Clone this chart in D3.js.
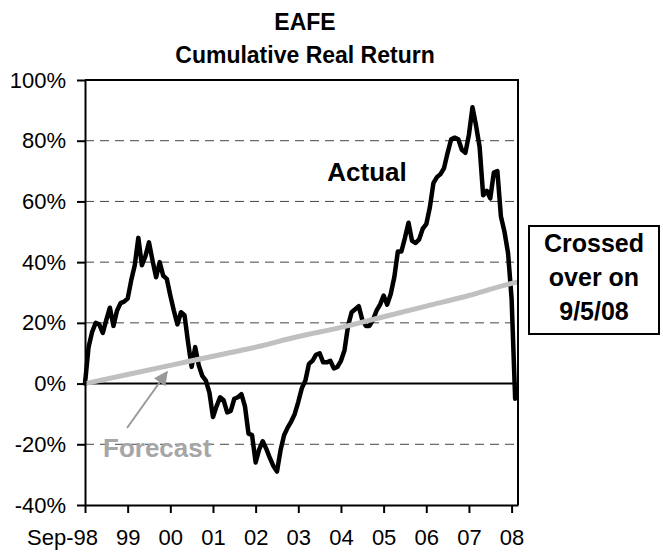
<!DOCTYPE html>
<html><head><meta charset="utf-8">
<script src="https://cdn.jsdelivr.net/npm/d3@7"></script>
<style>body{margin:0;background:#fff} text{font-family:"Liberation Sans",Arial,sans-serif}</style>
</head><body><svg id="c" width="663" height="552"></svg>
<script>
// Monthly cumulative real return (%) from Sep-98 (index 0) to 9/5/08
const actualValues = [
  0, 12, 17, 20, 19.5, 16.7, 21, 25, 19, 24, 26.5, 27,
  28, 34, 39, 48, 39, 42, 46.5, 40.5, 35, 40, 35.5, 34.5,
  29, 24, 19.5, 23.5, 22.5, 13.5, 5.5, 12, 6, 2.5, 1, -3,
  -11, -7.5, -4.5, -5.5, -9.5, -9, -5, -4.5, -3.5, -7.5, -16.5, -17,
  -26, -21.7, -19, -21.5, -24.5, -27.2, -29, -22, -17, -14.5, -12.5, -10,
  -6, -1.5, 1, 6.5, 7.5, 9.5, 10, 7, 7, 7.5, 5, 5.5,
  7.5, 11, 19, 23.5, 24.5, 25.5, 21, 19, 19, 21, 24, 26,
  29, 26, 29.5, 35, 43.5, 43.5, 48, 53, 47, 46.3, 47.5, 51,
  52.5, 58, 66, 68, 69, 71, 76, 80.5, 81, 80.5, 77, 76,
  82, 91, 85, 78, 62, 63.5, 61, 69.5, 70, 55, 50, 43,
  28, -5
];
const forecastMonths = [0, 12, 24, 36, 48, 60, 72, 84, 96, 108, 120, 121.8];
const forecastValues = [0, 3, 6, 9, 12, 15.5, 18.5, 22, 25.5, 29, 33, 33.5];
const xTickMonths = [0, 12, 24, 36, 48, 60, 72, 84, 96, 108, 120];
const xTickLabels = ["Sep-98", "99", "00", "01", "02", "03", "04", "05", "06", "07", "08"];
const yTicks = [-40, -20, 0, 20, 40, 60, 80, 100];
const gridValues = [-20, 20, 40, 60, 80];
const titleLines = ["EAFE", "Cumulative Real Return"];
const boxLines = ["Crossed", "over on", "9/5/08"];

const svg = d3.select("#c");
const L = 85, R = 518, T = 80, B = 505;
const x = d3.scaleLinear().domain([0, 121.8]).range([L, R]);
const y = d3.scaleLinear().domain([-40, 100]).range([B, T]);

// title
svg.append("g").selectAll("text").data(titleLines).join("text")
  .attr("x", 305).attr("y", (d, i) => 30 + i * 33)
  .attr("text-anchor", "middle").attr("font-weight", "bold").attr("font-size", 23)
  .text(d => d);

// dashed gridlines
svg.append("g").selectAll("line").data(gridValues).join("line")
  .attr("x1", L).attr("x2", R).attr("y1", d => y(d)).attr("y2", d => y(d))
  .attr("stroke", "#444").attr("stroke-width", 1).attr("stroke-dasharray", "9,6");

// zero line
svg.append("line").attr("x1", L).attr("x2", R).attr("y1", y(0)).attr("y2", y(0))
  .attr("stroke", "#000").attr("stroke-width", 2);

// actual line
const lineA = d3.line().x((d, i) => x(i)).y(d => y(d));
svg.append("path").datum(actualValues).attr("d", lineA)
  .attr("fill", "none").attr("stroke", "#000").attr("stroke-width", 4.5)
  .attr("stroke-linejoin", "round").attr("stroke-linecap", "round");

// forecast line
const lineF = d3.line().x(d => x(d[0])).y(d => y(d[1])).curve(d3.curveMonotoneX);
svg.append("path").datum(forecastMonths.map((m, i) => [m, forecastValues[i]])).attr("d", lineF)
  .attr("fill", "none").attr("stroke", "#c0c0c0").attr("stroke-width", 5);

// plot border top / right
svg.append("path").attr("d", `M${L},${T}H${R}V${B}`)
  .attr("fill", "none").attr("stroke", "#000").attr("stroke-width", 2);

// y axis
const yAxis = d3.axisLeft(y).tickValues(yTicks).tickFormat(d => d + "%")
  .tickSize(8).tickPadding(11).tickSizeOuter(0);
const gy = svg.append("g").attr("transform", `translate(${L},0)`).call(yAxis);
gy.selectAll("path,line").attr("stroke", "#000").attr("stroke-width", 2);
gy.selectAll("text").attr("font-size", 22).attr("fill", "#000")
  .attr("font-family", '"Liberation Sans",Arial,sans-serif');

// x axis
const xAxis = d3.axisBottom(x).tickValues(xTickMonths).tickFormat((d, i) => xTickLabels[i])
  .tickSize(8).tickPadding(16).tickSizeOuter(0);
const gx = svg.append("g").attr("transform", `translate(0,${B})`).call(xAxis);
gx.selectAll("path,line").attr("stroke", "#000").attr("stroke-width", 2);
gx.selectAll("text").attr("font-size", 22).attr("fill", "#000")
  .attr("font-family", '"Liberation Sans",Arial,sans-serif');
gx.selectAll("text").filter((d, i) => i === 0).attr("text-anchor", "end").attr("x", 12.5);

// labels
svg.append("text").attr("x", 367).attr("y", 181).attr("text-anchor", "middle")
  .attr("font-weight", "bold").attr("font-size", 26).text("Actual");
svg.append("text").attr("x", 103).attr("y", 457)
  .attr("font-weight", "bold").attr("font-size", 26).attr("fill", "#a6a6a6").text("Forecast");

// arrow
const defs = svg.append("defs");
defs.append("marker").attr("id", "ah").attr("viewBox", "0 0 10 10").attr("refX", 9).attr("refY", 5)
  .attr("markerWidth", 16).attr("markerHeight", 14).attr("markerUnits", "userSpaceOnUse")
  .attr("orient", "auto")
  .append("path").attr("d", "M0,0L10,5L0,10Z").attr("fill", "#999");
svg.append("line").attr("x1", 127).attr("y1", 428).attr("x2", 167).attr("y2", 372)
  .attr("stroke", "#999").attr("stroke-width", 2).attr("marker-end", "url(#ah)");

// callout box
svg.append("rect").attr("x", 529).attr("y", 226).attr("width", 130).attr("height", 108)
  .attr("fill", "#fff").attr("stroke", "#000").attr("stroke-width", 2);
svg.append("g").selectAll("text").data(boxLines).join("text")
  .attr("x", 594).attr("y", (d, i) => 252 + i * 34).attr("text-anchor", "middle")
  .attr("font-weight", "bold").attr("font-size", 25).text(d => d);
</script></body></html>
